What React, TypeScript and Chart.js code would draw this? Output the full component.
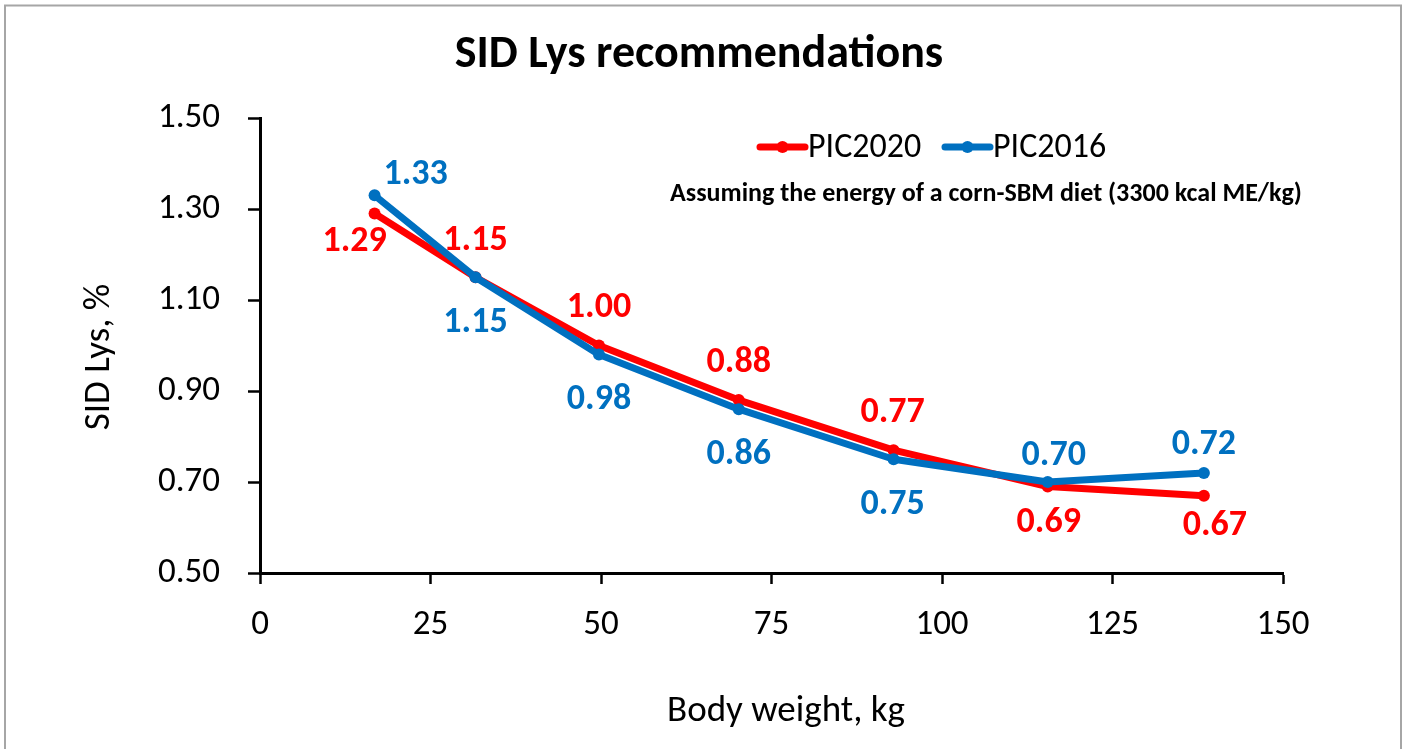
import React, { useEffect, useRef } from "react";
import { Chart, registerables } from "chart.js";

Chart.register(...registerables);

const bodyWeights = [16.8, 31.6, 49.7, 70.2, 92.9, 115.5, 138.4];
const pic2020 = [1.29, 1.15, 1.0, 0.88, 0.77, 0.69, 0.67];
const pic2016 = [1.33, 1.15, 0.98, 0.86, 0.75, 0.7, 0.72];
const seriesNames = ["PIC2020", "PIC2016"];
const chartTitle = "SID Lys recommendations";
const noteText = "Assuming the energy of a corn-SBM diet (3300 kcal ME/kg)";
const xTitle = "Body weight, kg";
const yTitle = "SID Lys, %";

const RED = "#FF0000";
const BLUE = "#0070C0";
const FONT = "Carlito, Calibri, Lato, sans-serif";

// label offsets (px) relative to each point, for text centre
const redOffsets = [[-20, 26], [0, -39], [0, -40], [0, -40], [-1, -40], [1, 34], [11, 28]];
const blueOffsets = [[41, -23], [0, 43], [0, 43], [0, 43], [-1, 43], [6, -29], [0, -30]];

const decorPlugin = {
  id: "decor",
  beforeDraw(chart: any) {
    const ctx = chart.ctx;
    ctx.save();
    ctx.fillStyle = "#ffffff";
    ctx.fillRect(0, 0, chart.width, chart.height);
    ctx.strokeStyle = "#A6A6A6";
    ctx.lineWidth = 2;
    ctx.strokeRect(5, 5.5, 1396, 800);
    ctx.restore();
  },
  afterDraw(chart: any) {
    const ctx = chart.ctx;
    ctx.save();
    // title
    ctx.fillStyle = "#000";
    ctx.textAlign = "center";
    ctx.textBaseline = "alphabetic";
    ctx.font = `bold 46px ${FONT}`;
    ctx.fillText(chartTitle, 699, 67);
    // axis titles
    ctx.font = `37px ${FONT}`;
    ctx.fillText(xTitle, 786, 721);
    ctx.save();
    ctx.translate(109, 357);
    ctx.rotate(-Math.PI / 2);
    ctx.fillText(yTitle, 0, 0);
    ctx.restore();
    // legend
    const legend = [
      { x: 760, color: RED, name: seriesNames[0] },
      { x: 945, color: BLUE, name: seriesNames[1] },
    ];
    legend.forEach((l) => {
      ctx.strokeStyle = l.color;
      ctx.lineWidth = 7;
      ctx.lineCap = "round";
      ctx.beginPath();
      ctx.moveTo(l.x, 147);
      ctx.lineTo(l.x + 45, 147);
      ctx.stroke();
      ctx.fillStyle = l.color;
      ctx.beginPath();
      ctx.arc(l.x + 22.5, 147, 6, 0, Math.PI * 2);
      ctx.fill();
      ctx.fillStyle = "#000";
      ctx.textAlign = "left";
      ctx.font = `34px ${FONT}`;
      ctx.fillText(l.name, l.x + 48, 157);
    });
    // note
    ctx.font = `bold 26px ${FONT}`;
    ctx.textAlign = "center";
    ctx.fillText(noteText, 986, 201);
    // data labels
    ctx.font = `bold 36px ${FONT}`;
    ctx.textAlign = "center";
    chart.data.datasets.forEach((ds: any, di: number) => {
      const meta = chart.getDatasetMeta(di);
      const offs = ds.label === seriesNames[0] ? redOffsets : blueOffsets;
      ctx.fillStyle = ds.borderColor;
      meta.data.forEach((pt: any, i: number) => {
        const v = ds.data[i].y;
        ctx.fillText(v.toFixed(2), pt.x + offs[i][0], pt.y + offs[i][1] + 11.5);
      });
    });
    ctx.restore();
  },
};

export default function App() {
  const ref = useRef<HTMLCanvasElement | null>(null);
  useEffect(() => {
    if (!ref.current) return;
    const chart = new Chart(ref.current, {
      type: "line",
      data: {
        datasets: [
          {
            label: seriesNames[0],
            data: bodyWeights.map((x, i) => ({ x, y: pic2020[i] })),
            borderColor: RED,
            backgroundColor: RED,
            pointBackgroundColor: RED,
            borderWidth: 7,
            pointRadius: 6,
            pointBorderWidth: 0,
            tension: 0,
            borderCapStyle: "round",
            borderJoinStyle: "round",
            order: 1,
          },
          {
            label: seriesNames[1],
            data: bodyWeights.map((x, i) => ({ x, y: pic2016[i] })),
            borderColor: BLUE,
            backgroundColor: BLUE,
            pointBackgroundColor: BLUE,
            borderWidth: 7,
            pointRadius: 6,
            pointBorderWidth: 0,
            tension: 0,
            borderCapStyle: "round",
            borderJoinStyle: "round",
            order: 0,
          },
        ],
      },
      options: {
        animation: false,
        responsive: true,
        maintainAspectRatio: false,
        layout: { padding: { left: 0, top: 118, right: 122, bottom: 0 } },
        plugins: { legend: { display: false }, tooltip: { enabled: false }, title: { display: false } },
        scales: {
          x: {
            type: "linear",
            min: 0,
            max: 150,
            afterFit: (s: any) => {
              s.height = 176;
            },
            border: { display: true, color: "#000", width: 3 },
            grid: { display: true, drawOnChartArea: false, drawTicks: true, tickLength: 11, tickWidth: 2.5, tickColor: "#000", color: "#000" },
            ticks: { stepSize: 25, color: "#000", padding: 20, font: { family: FONT, size: 35, lineHeight: 1.2 } },
          },
          y: {
            type: "linear",
            min: 0.5,
            max: 1.5,
            afterFit: (s: any) => {
              s.width = 260;
            },
            border: { display: true, color: "#000", width: 3 },
            grid: { display: true, drawOnChartArea: false, drawTicks: true, tickLength: 12, tickWidth: 2.5, tickColor: "#000", color: "#000" },
            ticks: {
              stepSize: 0.2,
              color: "#000",
              padding: 28,
              font: { family: FONT, size: 35, lineHeight: 1.2 },
              callback: (v: any) => Number(v).toFixed(2),
            },
          },
        },
      },
      plugins: [decorPlugin],
    });
    return () => chart.destroy();
  }, []);
  return (
    <div style={{ position: "fixed", left: 0, top: 0, width: 1405, height: 749 }}>
      <canvas ref={ref} />
    </div>
  );
}
